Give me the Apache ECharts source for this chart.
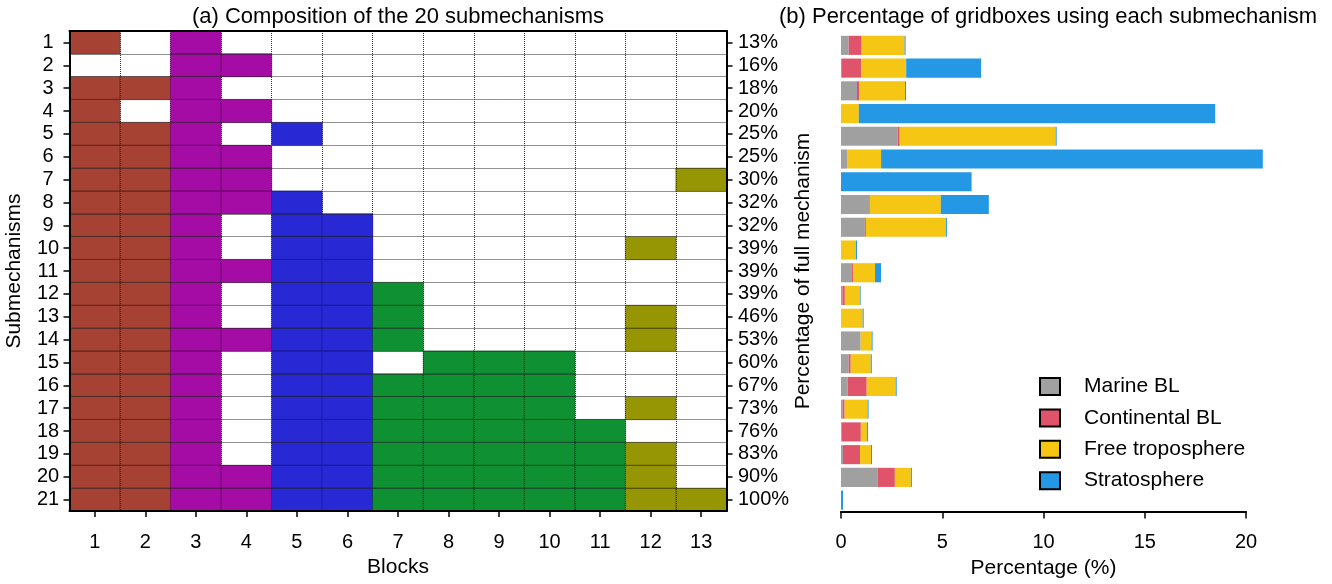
<!DOCTYPE html>
<html>
<head>
<meta charset="utf-8">
<script src="https://cdn.jsdelivr.net/npm/echarts@6/dist/echarts.min.js"></script>
<style>html,body{margin:0;padding:0;background:#fff;}#chart{width:1332px;height:584px;}</style>
</head>
<body>
<div id="chart"></div>
<script>
const submechanisms = ['1','2','3','4','5','6','7','8','9','10','11','12','13','14','15','16','17','18','19','20','21'];
const blocks = ['1','2','3','4','5','6','7','8','9','10','11','12','13'];
const fullMechPct = ['13%','16%','18%','20%','25%','25%','30%','32%','32%','39%','39%','39%','46%','53%','60%','67%','73%','76%','83%','90%','100%'];
const blockGroup = [1,1,2,2,3,3,4,4,4,4,4,5,5];
const groupColors = ['#A54233','#A50CA5','#2828D5','#0F9133','#969605'];
const membership = [
  '1010000000000',
  '0011000000000',
  '1110000000000',
  '1011000000000',
  '1110100000000',
  '1111000000000',
  '1111000000001',
  '1111100000000',
  '1110110000000',
  '1110110000010',
  '1111110000000',
  '1110111000000',
  '1110111000010',
  '1111111000010',
  '1110110111000',
  '1110111111000',
  '1110111111010',
  '1110111111100',
  '1110111111110',
  '1111111111110',
  '1111111111111'
];
const marineBL      = [0.38,0.05,0.79,0,2.8,0.3,0,1.43,1.18,0,0.54,0.07,0.03,0.97,0.38,0.33,0.08,0.03,0.1,1.82,0];
const continentalBL = [0.64,0.95,0.1,0,0.1,0,0,0,0.05,0,0.05,0.12,0,0,0.1,0.94,0.1,0.95,0.84,0.84,0];
const freeTrop      = [2.12,2.22,2.27,0.88,7.7,1.68,0,3.5,3.95,0.74,1.09,0.76,1.04,0.54,0.99,1.43,1.13,0.3,0.54,0.79,0];
const stratosphere  = [0.05,3.70,0.05,17.6,0.05,18.85,6.45,2.37,0.05,0.05,0.3,0.03,0.05,0.05,0.05,0.05,0.05,0.05,0.05,0.05,0.1];
const xTicksB = [0,5,10,15,20];

const cells = [];
membership.forEach((row, r) => {
  row.split('').forEach((c, b) => {
    if (c === '1') cells.push([b, r, blockGroup[b]]);
  });
});

const FONT = 'Liberation Sans';
const txt = {fontFamily: FONT, fontSize: 21, color: '#000'};

const chart = echarts.init(document.getElementById('chart'), null, {renderer: 'canvas'});
chart.setOption({
  animation: false,
  backgroundColor: '#fff',
  textStyle: {fontFamily: FONT},
  title: [
    {text: '(a) Composition of the 20 submechanisms', left: 398, top: 6, textAlign: 'center', padding: 0,
     textStyle: {fontFamily: FONT, fontSize: 22, fontWeight: 'normal', color: '#000'}},
    {text: '(b) Percentage of gridboxes using each submechanism', left: 1048, top: 6, textAlign: 'center', padding: 0,
     textStyle: {fontFamily: FONT, fontSize: 22, fontWeight: 'normal', color: '#000'}}
  ],
  grid: [
    {left: 69.5, right: 605.5, top: 31, bottom: 73, containLabel: false},
    {left: 841, right: 86, top: 34, bottom: 72.5, containLabel: false}
  ],
  visualMap: {
    type: 'piecewise', show: false, dimension: 2, seriesIndex: 0,
    pieces: groupColors.map((c, i) => ({value: i + 1, color: c}))
  },
  legend: {
    orient: 'vertical', left: 1039, top: 376, itemWidth: 20, itemHeight: 17, itemGap: 10.4,
    icon: 'rect', padding: 0,
    itemStyle: {borderColor: '#000', borderWidth: 2},
    textStyle: {fontFamily: FONT, fontSize: 21, color: '#000', padding: [0, 0, 0, 19], lineHeight: 17},
    data: ['Marine BL', 'Continental BL', 'Free troposphere', 'Stratosphere']
  },
  xAxis: [
    {type: 'category', gridIndex: 0, data: blocks, position: 'bottom', z: 10,
     name: 'Blocks', nameLocation: 'middle', nameGap: 46, nameTextStyle: txt,
     axisLine: {show: true, lineStyle: {color: '#000', width: 2}},
     axisTick: {show: true, interval: 0, alignWithLabel: true, length: 6, lineStyle: {color: '#000', width: 1.5}},
     axisLabel: {interval: 0, margin: 21, fontFamily: FONT, fontSize: 20, color: '#000'},
     splitLine: {show: true, interval: 0, lineStyle: {color: '#333', width: 1, type: [1, 1]}}},
    {type: 'category', gridIndex: 0, data: blocks, position: 'top', z: 11,
     axisLine: {show: true, lineStyle: {color: '#000', width: 2}},
     axisTick: {show: false}, axisLabel: {show: false}, splitLine: {show: false}},
    {type: 'value', gridIndex: 1, min: 0, max: 20, interval: 5, position: 'bottom',
     name: 'Percentage (%)', nameLocation: 'middle', nameGap: 46, nameTextStyle: txt,
     axisLine: {show: true, lineStyle: {color: '#000', width: 2}},
     axisTick: {show: true, length: 7, lineStyle: {color: '#000', width: 1.5}},
     axisLabel: {margin: 21, fontFamily: FONT, fontSize: 20, color: '#000', formatter: v => xTicksB.includes(v) ? String(v) : ''},
     splitLine: {show: false}}
  ],
  yAxis: [
    {type: 'category', gridIndex: 0, data: submechanisms, inverse: true, position: 'left', z: 10,
     name: 'Submechanisms', nameLocation: 'middle', nameGap: 44.5, nameRotate: 90, nameTextStyle: txt,
     axisLine: {show: true, lineStyle: {color: '#000', width: 2}},
     axisTick: {show: true, interval: 0, alignWithLabel: true, length: 6, lineStyle: {color: '#000', width: 1.5}},
     axisLabel: {interval: 0, margin: 21.5, align: 'center', fontFamily: FONT, fontSize: 20, color: '#000'},
     splitLine: {show: true, interval: 0, lineStyle: {color: '#222', width: 1, type: [1, 1]}}},
    {type: 'category', gridIndex: 0, data: fullMechPct, inverse: true, position: 'right', z: 10,
     name: 'Percentage of full mechanism', nameLocation: 'middle', nameGap: 65.5, nameRotate: 90, nameTextStyle: txt,
     axisLine: {show: true, lineStyle: {color: '#000', width: 2}},
     axisTick: {show: true, interval: 0, alignWithLabel: true, length: 6, lineStyle: {color: '#000', width: 1.5}},
     axisLabel: {interval: 0, margin: 11.5, align: 'left', fontFamily: FONT, fontSize: 20, color: '#000'},
     splitLine: {show: false}},
    {type: 'category', gridIndex: 1, data: submechanisms, inverse: true,
     axisLine: {show: false}, axisTick: {show: false}, axisLabel: {show: false}, splitLine: {show: false}}
  ],
  series: [
    {type: 'heatmap', xAxisIndex: 0, yAxisIndex: 0, data: cells,
     itemStyle: {borderColor: 'rgba(0,0,0,0.45)', borderWidth: 0.5}, emphasis: {disabled: true}},
    {name: 'Marine BL', type: 'bar', stack: 'b', xAxisIndex: 2, yAxisIndex: 2, data: marineBL,
     barCategoryGap: '16%', clip: false, itemStyle: {color: '#A0A0A0'}},
    {name: 'Continental BL', type: 'bar', stack: 'b', xAxisIndex: 2, yAxisIndex: 2, data: continentalBL,
     barCategoryGap: '16%', clip: false, itemStyle: {color: '#E0546B'}},
    {name: 'Free troposphere', type: 'bar', stack: 'b', xAxisIndex: 2, yAxisIndex: 2, data: freeTrop,
     barCategoryGap: '16%', clip: false, itemStyle: {color: '#F5C613'}},
    {name: 'Stratosphere', type: 'bar', stack: 'b', xAxisIndex: 2, yAxisIndex: 2, data: stratosphere,
     barCategoryGap: '16%', clip: false, itemStyle: {color: '#2497E5'}}
  ]
});
</script>
</body>
</html>
